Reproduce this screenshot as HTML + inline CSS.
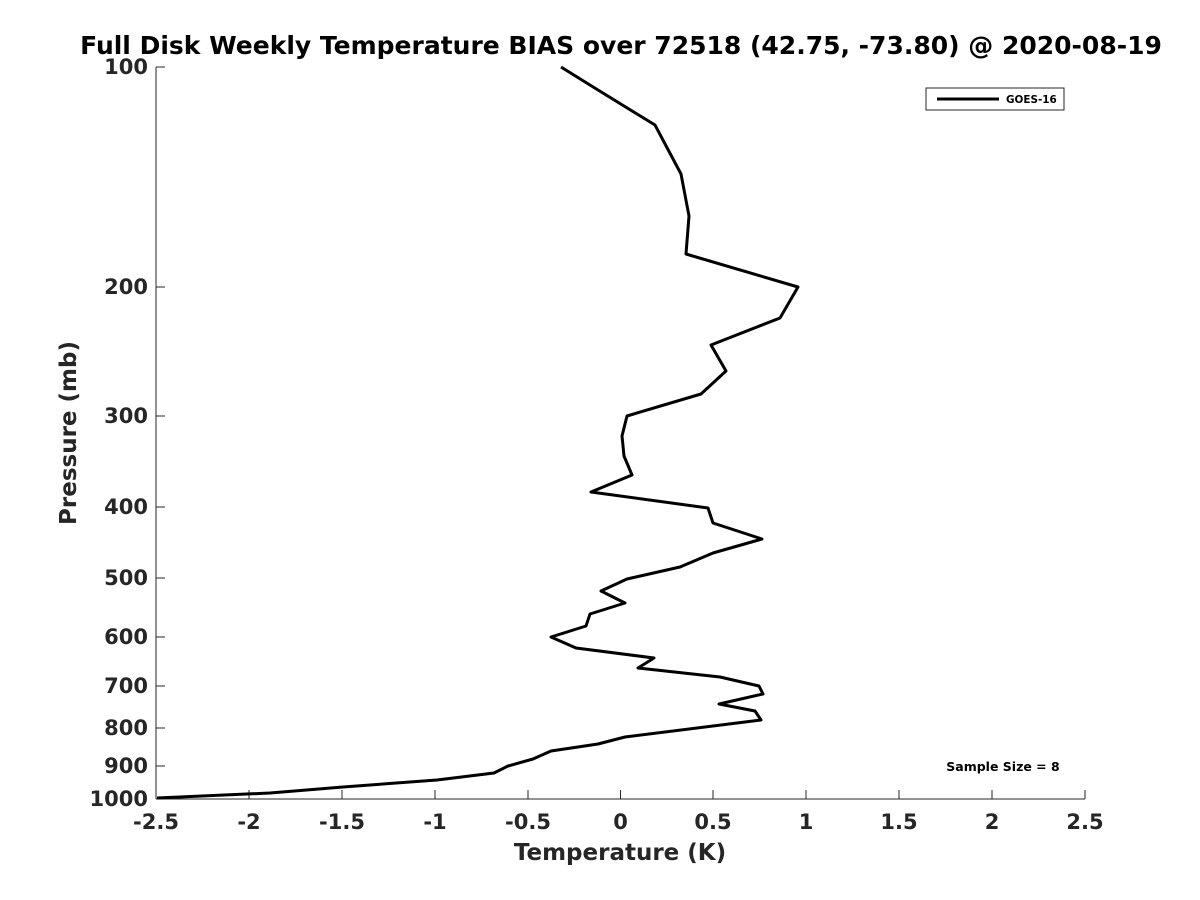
<!DOCTYPE html>
<html><head><style>body{margin:0;background:#fff}svg{display:block}</style></head><body>
<svg width="1200" height="900" xmlns="http://www.w3.org/2000/svg" font-family="DejaVu Sans, sans-serif" font-weight="bold">
<rect width="1200" height="900" fill="#fff"/>
<text x="621" y="54" font-size="25" text-anchor="middle" fill="#000">Full Disk Weekly Temperature BIAS over 72518 (42.75, -73.80) @ 2020-08-19</text>
<g stroke="#262626" stroke-width="1">
<line x1="156" y1="67" x2="156" y2="799"/>
<line x1="156" y1="799" x2="1085" y2="799"/>
<line x1="156" y1="67" x2="165" y2="67"/><line x1="156" y1="287" x2="165" y2="287"/><line x1="156" y1="416" x2="165" y2="416"/><line x1="156" y1="507" x2="165" y2="507"/><line x1="156" y1="578" x2="165" y2="578"/><line x1="156" y1="637" x2="165" y2="637"/><line x1="156" y1="686" x2="165" y2="686"/><line x1="156" y1="728" x2="165" y2="728"/><line x1="156" y1="766" x2="165" y2="766"/>
<line x1="249" y1="799" x2="249" y2="790"/><line x1="342" y1="799" x2="342" y2="790"/><line x1="435" y1="799" x2="435" y2="790"/><line x1="528" y1="799" x2="528" y2="790"/><line x1="620.5" y1="799" x2="620.5" y2="790"/><line x1="713" y1="799" x2="713" y2="790"/><line x1="806" y1="799" x2="806" y2="790"/><line x1="899" y1="799" x2="899" y2="790"/><line x1="992" y1="799" x2="992" y2="790"/><line x1="1085" y1="799" x2="1085" y2="790"/>
</g>
<g font-size="21" fill="#262626" text-anchor="end">
<text x="148" y="74">100</text><text x="148" y="294">200</text><text x="148" y="423">300</text><text x="148" y="514">400</text><text x="148" y="585">500</text><text x="148" y="644">600</text><text x="148" y="693">700</text><text x="148" y="735">800</text><text x="148" y="773">900</text><text x="148" y="806">1000</text>
</g>
<g font-size="21" fill="#262626" text-anchor="middle">
<text x="156" y="829">-2.5</text><text x="249" y="829">-2</text><text x="342" y="829">-1.5</text><text x="435" y="829">-1</text><text x="528" y="829">-0.5</text><text x="620.5" y="829">0</text><text x="713" y="829">0.5</text><text x="806" y="829">1</text><text x="899" y="829">1.5</text><text x="992" y="829">2</text><text x="1085" y="829">2.5</text>
<text x="620" y="860" font-size="23">Temperature (K)</text>
<text transform="translate(76,433) rotate(-90)" font-size="23">Pressure (mb)</text>
</g>
<polyline fill="none" stroke="#000" stroke-width="3" stroke-linejoin="round" points="561,67 598,90 655,125 681,174 689,216 686,254 798,287 780,318 711,345 726,371 701,394 627,416 622,436 624,456 632,475 591,492 708,508 713,523 762,539 713,553 680,567 627,579 601,591 625,603 590,614 586,626 551,637 576,648 654,658 638,668 720,677 759,686 763,694 719,704 755,711 761,720 625,737 598,744 551,751 533,759 508,766 494,773 437,780 343,787 270,793 157,798"/>
<rect x="926" y="88" width="138" height="22" fill="#fff" stroke="#262626" stroke-width="1"/>
<line x1="937" y1="99" x2="999" y2="99" stroke="#000" stroke-width="3"/>
<text x="1006" y="103" font-size="10.4" fill="#000">GOES-16</text>
<text x="1003" y="771" font-size="12.5" fill="#000" text-anchor="middle">Sample Size = 8</text>
</svg>
</body></html>
